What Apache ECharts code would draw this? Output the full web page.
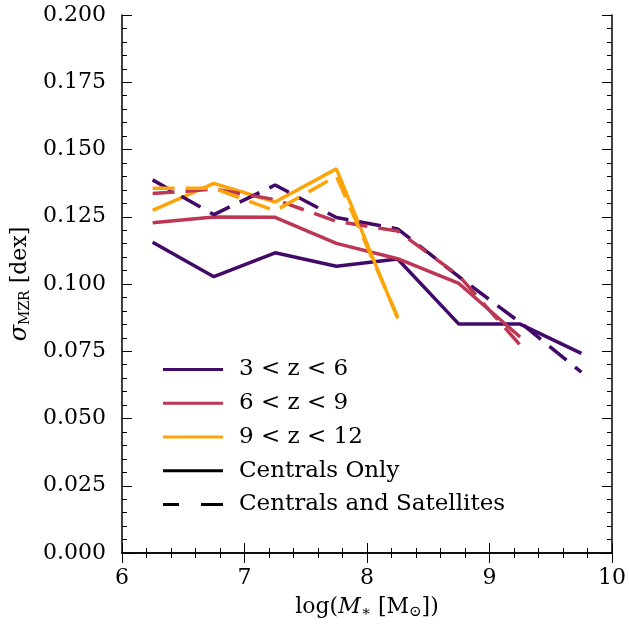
<!DOCTYPE html>
<html>
<head>
<meta charset="utf-8">
<script src="https://cdn.jsdelivr.net/npm/echarts@6/dist/echarts.min.js"></script>
<style>html,body{margin:0;padding:0;background:#fff;}#c{width:629px;height:627px;}</style>
</head>
<body>
<div id="c"></div>
<script>
const massBins = [6.25, 6.75, 7.25, 7.75, 8.25, 8.75, 9.25, 9.75];
const z3to6Centrals = [0.1155, 0.1027, 0.1116, 0.1066, 0.1093, 0.0851, 0.0851, 0.0742];
const z3to6All      = [0.1387, 0.1258, 0.1368, 0.1247, 0.1205, 0.1027, 0.0857, 0.0672];
const z6to9Centrals = [0.1228, 0.1249, 0.1248, 0.1151, 0.1094, 0.1002, 0.0803];
const z6to9All      = [0.1336, 0.1353, 0.1314, 0.1233, 0.1197, 0.1031, 0.0773];
const z9to12Centrals = [0.1274, 0.1374, 0.1305, 0.1428, 0.0872];
const z9to12All      = [0.1356, 0.1356, 0.1272, 0.1401, 0.0878];
const legendNames = ['3 < z < 6', '6 < z < 9', '9 < z < 12', 'Centrals Only', 'Centrals and Satellites'];

const COL = ['#420a68', '#bc3754', '#fca50a'];
const FONT = 'DejaVu Serif';
const DASH = [22, 11];
const SOLID_ICON = 'path://M0,0H60V3H0Z';
const DASH_ICON = 'path://M0,0H16V3H0Z M38,0H60V3H38Z';

function pairs(ys) { return ys.map((y, i) => [massBins[i], y]); }

function lineSeries(name, ys, color, dashed) {
  return {
    name: name, type: 'line', data: pairs(ys), symbol: 'none', z: dashed ? 3 : 2,
    lineStyle: { color: color, width: 3.5, type: dashed ? DASH : 'solid', cap: 'butt' },
    itemStyle: { color: color }, silent: true, animation: false
  };
}

const tickCommon = {
  axisLine: { show: true, lineStyle: { color: '#000', width: 1.5 } },
  axisTick: { show: true, inside: true, length: 10, lineStyle: { color: '#000', width: 1 } },
  minorTick: { show: true, splitNumber: 5, length: 5, lineStyle: { color: '#000', width: 1 } },
  splitLine: { show: false }
};

const legendColors = [COL[0], COL[1], COL[2], '#000', '#000'];
const legendIcons = [SOLID_ICON, SOLID_ICON, SOLID_ICON, SOLID_ICON, DASH_ICON];

const chart = echarts.init(document.getElementById('c'), null, { renderer: 'canvas' });
chart.setOption({
  animation: false,
  backgroundColor: '#fff',
  grid: { left: 122, right: 15, top: 15, bottom: 74, containLabel: false },
  xAxis: [
    Object.assign({
      type: 'value', min: 6, max: 10, interval: 1, position: 'bottom',
      axisLabel: { show: true, inside: false, margin: 14, color: '#000', fontFamily: FONT, fontSize: 22 },
      name: '{n|log(}{i|M}{s|∗}{n| [M}{s|⊙}{n|])}', nameLocation: 'middle', nameGap: 42,
      nameTextStyle: {
        color: '#000',
        rich: {
          n: { fontFamily: FONT, fontSize: 22, color: '#000' },
          i: { fontFamily: FONT, fontStyle: 'italic', fontSize: 22, color: '#000' },
          s: { fontFamily: FONT, fontSize: 15, color: '#000', padding: [10, 0, 0, 0] }
        }
      }
    }, tickCommon),
    Object.assign({
      type: 'value', min: 6, max: 10, interval: 1, position: 'top',
      axisLabel: { show: false }
    }, tickCommon)
  ],
  yAxis: [
    Object.assign({
      type: 'value', min: 0, max: 0.2, interval: 0.025, position: 'left',
      axisLabel: { show: true, margin: 16, color: '#000', fontFamily: FONT, fontSize: 22,
        formatter: v => v.toFixed(3) },
      name: '{i|σ}{s|MZR}{n| [dex]}', nameLocation: 'middle', nameGap: 84, nameRotate: 90,
      nameTextStyle: {
        color: '#000',
        rich: {
          n: { fontFamily: FONT, fontSize: 22, color: '#000' },
          i: { fontFamily: FONT, fontStyle: 'italic', fontSize: 24, color: '#000' },
          s: { fontFamily: FONT, fontSize: 14, color: '#000', padding: [10, 0, 0, 0] }
        }
      }
    }, tickCommon),
    Object.assign({
      type: 'value', min: 0, max: 0.2, interval: 0.025, position: 'right',
      axisLabel: { show: false }
    }, tickCommon)
  ],
  legend: {
    show: true, orient: 'vertical', left: 158, top: 352,
    data: legendNames.map((n, i) => ({ name: n, icon: legendIcons[i], itemStyle: { color: legendColors[i] } })),
    itemWidth: 60, itemHeight: 3, itemGap: 8.75,
    textStyle: { fontFamily: FONT, fontSize: 23, color: '#000', lineHeight: 25, padding: [0, 0, 0, 11] },
    selectedMode: false
  },
  series: [
    lineSeries('3 < z < 6', z3to6Centrals, COL[0], false),
    lineSeries('3 < z < 6 all', z3to6All, COL[0], true),
    lineSeries('6 < z < 9', z6to9Centrals, COL[1], false),
    lineSeries('6 < z < 9 all', z6to9All, COL[1], true),
    lineSeries('9 < z < 12', z9to12Centrals, COL[2], false),
    lineSeries('9 < z < 12 all', z9to12All, COL[2], true),
    { name: 'Centrals Only', type: 'line', data: [], symbol: 'none',
      lineStyle: { color: '#000', width: 3, type: 'solid' }, itemStyle: { color: '#000' } },
    { name: 'Centrals and Satellites', type: 'line', data: [], symbol: 'none',
      lineStyle: { color: '#000', width: 3, type: [16, 21], cap: 'butt' }, itemStyle: { color: '#000' } }
  ]
});
</script>
</body>
</html>
